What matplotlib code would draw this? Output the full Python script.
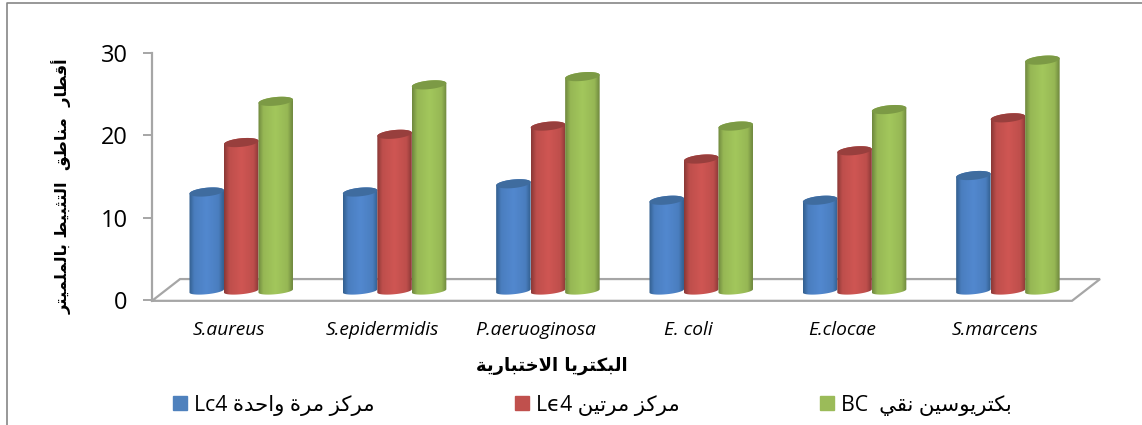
import numpy as np
import matplotlib
matplotlib.use('Agg')
import matplotlib.pyplot as plt
from matplotlib.lines import Line2D
from matplotlib.patches import Patch, PathPatch
from matplotlib.path import Path

categories = ['S.aureus', 'S.epidermidis', 'P.aeruoginosa', 'E. coli', 'E.clocae', 'S.marcens']
series_names = ['مركز مرة واحدة Lc4', 'مركز مرتين Lϵ4', 'بكتريوسين نقي  BC']
lc4_once = [12, 12, 13, 11, 11, 14]
lc4_twice = [18, 19, 20, 16, 17, 21]
pure_bc = [23, 25, 26, 20, 22, 28]
y_ticks = [0, 10, 20, 30]
y_title = 'أقطار  مناطق  التثبيط بالملميتر'
x_title = 'البكتريا الاختبارية'

W, H = 1142, 425
AX_L, AX_R, AX_B, AX_T = 152, 1072, 300, 52.7

# colour at edge, highlight, top cap
styles = [('#33608f', '#5288cf', '#3f6c9f'),
          ('#8a3836', '#cf5653', '#983f3d'),
          ('#6f883e', '#a3c75c', '#7c9a45')]
legend_colors = ['#4f81bd', '#c0504d', '#9bbb59']
GRAY = '#a6a6a6'

# first form of each letter in Arabic Presentation Forms-B, and how many forms it has
FORMS = {'ا': (0xFE8D, 2), 'أ': (0xFE83, 2), 'ب': (0xFE8F, 4), 'ة': (0xFE93, 2), 'ت': (0xFE95, 4),
         'ث': (0xFE99, 4), 'ح': (0xFEA1, 4), 'خ': (0xFEA5, 4), 'د': (0xFEA9, 2), 'ر': (0xFEAD, 2),
         'ز': (0xFEAF, 2), 'س': (0xFEB1, 4), 'ط': (0xFEC1, 4), 'ق': (0xFED5, 4), 'ك': (0xFED9, 4),
         'ل': (0xFEDD, 4), 'م': (0xFEE1, 4), 'ن': (0xFEE5, 4), 'و': (0xFEED, 2), 'ي': (0xFEF1, 4)}
LAM_ALEF = {'ا': 0xFEFB, 'أ': 0xFEF7}


def shape_word(word):
    out = []
    i = 0
    joined = False
    while i < len(word):
        c = word[i]
        next_c = word[i + 1] if i + 1 < len(word) else None
        if c == 'ل' and next_c in LAM_ALEF:
            out.append(chr(LAM_ALEF[next_c] + (1 if joined else 0)))
            joined = False
            i += 2
            continue
        start, n = FORMS[c]
        joins_next = n == 4 and next_c is not None
        if joined and joins_next:
            form = 3
        elif joined:
            form = 1
        elif joins_next:
            form = 2
        else:
            form = 0
        out.append(chr(start + form))
        joined = joins_next
        i += 1
    return ''.join(reversed(out))


def rtl(text):
    # matplotlib does no shaping or bidi, so do it here word by word
    words = []
    for word in text.split(' '):
        if word and word[0] in FORMS:
            words.append(shape_word(word))
        else:
            words.append(word)
    return ' '.join(reversed(words))


def cylinder(ax, cx, value, width, base, colors, z):
    a = width / 2
    b, k = 0.52, 0.2  # ellipse half height and tilt, in y units
    b_low = 0.4
    top = base + value
    t_low = np.linspace(np.pi, 2 * np.pi, 40)
    t_up = np.linspace(0, np.pi, 40)
    xs = np.r_[cx + a * np.cos(t_low), cx + a * np.cos(t_up)]
    ys = np.r_[base + b_low * np.sin(t_low) + k * np.cos(t_low), top + b * np.sin(t_up) + k * np.cos(t_up)]
    body = PathPatch(Path(np.c_[xs, ys], closed=False), fc='none', ec='none', zorder=z)
    ax.add_patch(body)
    edge = np.array(matplotlib.colors.to_rgb(colors[0]))
    light = np.array(matplotlib.colors.to_rgb(colors[1]))
    u = np.linspace(0, 1, 64)
    mix = np.interp(u, [0, 0.15, 0.5, 0.85, 1], [0, 0.75, 1, 0.75, 0])[:, None]
    grad = (edge + (light - edge) * mix)[None, :, :]
    im = ax.imshow(grad, extent=(cx - a, cx + a, base - 2, top + 2), aspect='auto',
                   interpolation='bilinear', zorder=z)
    im.set_clip_path(body)
    t = np.linspace(0, 2 * np.pi, 80)
    ax.fill(cx + a * np.cos(t), top + b * np.sin(t) + k * np.cos(t), color=colors[2], lw=0, zorder=z + 0.1)


fig = plt.figure(figsize=(W / 100, H / 100), dpi=100)
ax = fig.add_axes([AX_L / W, 1 - AX_B / H, (AX_R - AX_L) / W, (AX_B - AX_T) / H])
# chart frame is only visible on the left and the top
fig.add_artist(Line2D([6.5 / W, 6.5 / W, 1], [0, 1 - 3 / H, 1 - 3 / H], transform=fig.transFigure,
                      color='#868686', lw=1.2))

n = len(categories)
x = np.arange(n)
bar_w = 0.225
shift = 0.082
base = 1.1
for s, values in enumerate([lc4_once, lc4_twice, pure_bc]):
    for i, v in enumerate(values):
        cylinder(ax, x[i] + shift + (s - 1) * bar_w, v, bar_w, base, styles[s], 3 + i + s * 0.2)

ax.set_xlim(-0.5, n - 0.5)
ax.set_ylim(0, 30)

# floor of the 3d chart
dx, dy = 0.183, 2.54
ax.plot([-0.5, -0.5 + dx, n - 0.5 + dx, n - 0.5, -0.5], [-0.1, dy, dy, -0.1, -0.1], color=GRAY, lw=1.6,
        clip_on=False, zorder=2, solid_joinstyle='miter')

for name in ['top', 'right', 'bottom']:
    ax.spines[name].set_visible(False)
ax.spines['left'].set_color(GRAY)
ax.spines['left'].set_linewidth(1.6)
ax.set_yticks(y_ticks)
ax.tick_params(axis='y', length=6.5, width=1.4, color=GRAY, labelsize=17, pad=11)
ax.set_xticks(x)
ax.set_xticklabels(categories, fontstyle='italic', fontsize=13.8, family='Open Sans')
ax.tick_params(axis='x', length=0, pad=15)
for label in ax.get_yticklabels():
    label.set_family('Open Sans')

fig.text(552 / W, 1 - 366 / H, rtl(x_title), fontsize=13, fontweight='bold', family='DejaVu Sans',
         ha='center', va='center')
fig.text(62 / W, 1 - 186 / H, rtl(y_title), fontsize=11.7, fontweight='bold', family='DejaVu Sans',
         rotation=90, ha='center', va='center')

handles = [Patch(color=c) for c in legend_colors]
fig.legend(handles, [rtl(s) for s in series_names], ncol=3, frameon=False, loc='center',
           bbox_to_anchor=(592 / W, 1 - 405 / H), handlelength=0.66, handleheight=0.66, handletextpad=0.33,
           columnspacing=6.6, borderpad=0, prop={'family': ['Open Sans', 'DejaVu Sans'], 'size': 15.3})

fig.savefig('out.png', dpi=100)
